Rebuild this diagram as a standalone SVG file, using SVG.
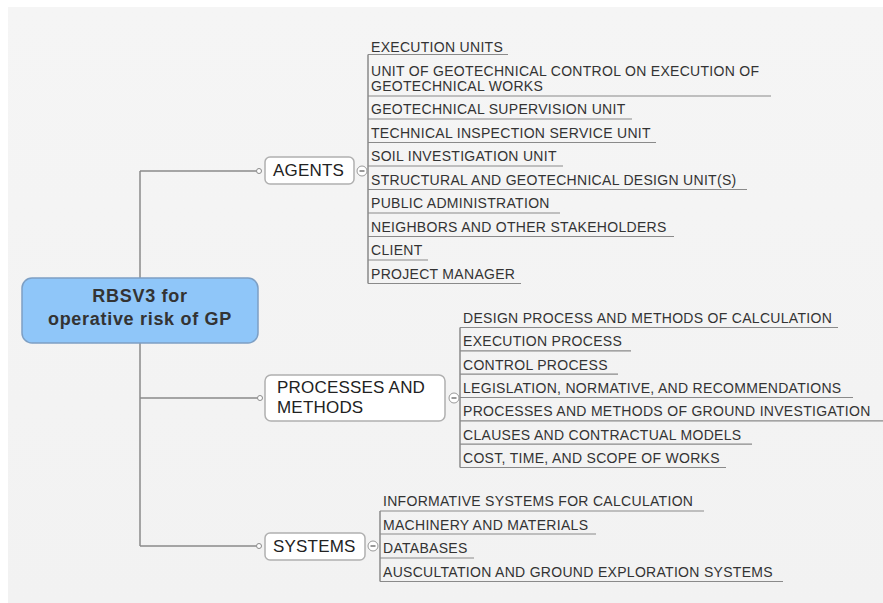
<svg xmlns="http://www.w3.org/2000/svg" width="883" height="603" viewBox="0 0 883 603">
<defs>
<linearGradient id="bg" x1="0" y1="0" x2="0" y2="1">
<stop offset="0" stop-color="#f5f5f5"/>
<stop offset="1" stop-color="#f2f2f2"/>
</linearGradient>
<style>
.lbl{font-family:"Liberation Sans",Arial,sans-serif;font-size:14px;letter-spacing:0.3px;fill:#333}
.node{font-family:"Liberation Sans",Arial,sans-serif;font-size:17px;letter-spacing:0.2px;fill:#222}
.root{font-family:"Liberation Sans",Arial,sans-serif;font-size:18px;font-weight:bold;letter-spacing:0.7px;fill:#333}
.ln{stroke:#8a8a8a;stroke-width:1.5;fill:none}
.ul{stroke:#8a8a8a;stroke-width:1.2;fill:none}
.box{fill:#fff;stroke:#b0b0b0;stroke-width:1.5}
.dot{fill:#fff;stroke:#8a8a8a;stroke-width:1}
.col{fill:#fff;stroke:#999;stroke-width:1}
.minus{stroke:#555;stroke-width:1.2}
</style>
</defs>
<rect x="8" y="7" width="875" height="596" fill="url(#bg)"/>

<g id="connectors">
<path class="ln" d="M140,171 V546 M140,171 H256.5 M140,398 H257.5 M140,546 H256.5"/>
<circle class="dot" cx="259" cy="171" r="2.5"/>
<circle class="dot" cx="260" cy="398" r="2.5"/>
<circle class="dot" cx="259" cy="546" r="2.5"/>
<path class="ln" d="M368,54.5 V283.5"/>
<path class="ln" d="M460,327.5 V467.5"/>
<path class="ln" d="M380,511 V581.5"/>
</g>

<g id="root">
<rect x="22" y="278" width="236" height="65" rx="10" fill="#8fc6f9" stroke="#7d9fc4" stroke-width="1.5"/>
<text class="root" x="140" y="302" text-anchor="middle">RBSV3 for</text>
<text class="root" x="140" y="325" text-anchor="middle">operative risk of GP</text>
</g>

<g id="agents">
<rect class="box" x="265" y="157" width="89" height="27" rx="5"/>
<text class="node" x="273" y="175.5">AGENTS</text>
<circle class="col" cx="362" cy="171" r="5"/>
<path class="minus" d="M359.5,171 H364.5"/>
</g>

<g id="agents-children">
<g id="a1"><text class="lbl" x="371" y="52">EXECUTION UNITS</text><path class="ul" d="M368,54.5 H508"/></g>
<g id="a2"><text class="lbl" x="371" y="76">UNIT OF GEOTECHNICAL CONTROL ON EXECUTION OF</text><text class="lbl" x="371" y="91">GEOTECHNICAL WORKS</text><path class="ul" d="M368,96 H771"/></g>
<g id="a3"><text class="lbl" x="371" y="114">GEOTECHNICAL SUPERVISION UNIT</text><path class="ul" d="M368,119 H632"/></g>
<g id="a4"><text class="lbl" x="371" y="137.5">TECHNICAL INSPECTION SERVICE UNIT</text><path class="ul" d="M368,142.5 H656"/></g>
<g id="a5"><text class="lbl" x="371" y="161">SOIL INVESTIGATION UNIT</text><path class="ul" d="M368,166 H563"/></g>
<g id="a6"><text class="lbl" x="371" y="184.5">STRUCTURAL AND GEOTECHNICAL DESIGN UNIT(S)</text><path class="ul" d="M368,189.5 H747"/></g>
<g id="a7"><text class="lbl" x="371" y="208">PUBLIC ADMINISTRATION</text><path class="ul" d="M368,213 H560"/></g>
<g id="a8"><text class="lbl" x="371" y="231.5">NEIGHBORS AND OTHER STAKEHOLDERS</text><path class="ul" d="M368,236.5 H674"/></g>
<g id="a9"><text class="lbl" x="371" y="255">CLIENT</text><path class="ul" d="M368,260 H428"/></g>
<g id="a10"><text class="lbl" x="371" y="278.5">PROJECT MANAGER</text><path class="ul" d="M368,283.5 H521"/></g>
</g>

<g id="processes">
<rect class="box" x="265" y="375" width="180" height="46" rx="6"/>
<text class="node" x="277" y="393">PROCESSES AND</text>
<text class="node" x="277" y="413">METHODS</text>
<circle class="col" cx="454" cy="398" r="5"/>
<path class="minus" d="M451.5,398 H456.5"/>
</g>

<g id="processes-children">
<g id="p1"><text class="lbl" x="463" y="323">DESIGN PROCESS AND METHODS OF CALCULATION</text><path class="ul" d="M460,327.5 H838"/></g>
<g id="p2"><text class="lbl" x="463" y="346.3">EXECUTION PROCESS</text><path class="ul" d="M460,350.8 H631"/></g>
<g id="p3"><text class="lbl" x="463" y="369.7">CONTROL PROCESS</text><path class="ul" d="M460,374.2 H618"/></g>
<g id="p4"><text class="lbl" x="463" y="393">LEGISLATION, NORMATIVE, AND RECOMMENDATIONS</text><path class="ul" d="M460,397.5 H853"/></g>
<g id="p5"><text class="lbl" x="463" y="416.3">PROCESSES AND METHODS OF GROUND INVESTIGATION</text><path class="ul" d="M460,420.8 H883"/></g>
<g id="p6"><text class="lbl" x="463" y="439.7">CLAUSES AND CONTRACTUAL MODELS</text><path class="ul" d="M460,444.2 H752"/></g>
<g id="p7"><text class="lbl" x="463" y="463">COST, TIME, AND SCOPE OF WORKS</text><path class="ul" d="M460,467.5 H726"/></g>
</g>

<g id="systems">
<rect class="box" x="265" y="533" width="100" height="27" rx="5"/>
<text class="node" x="273" y="552">SYSTEMS</text>
<circle class="col" cx="373" cy="546" r="5"/>
<path class="minus" d="M370.5,546 H375.5"/>
</g>

<g id="systems-children">
<g id="s1"><text class="lbl" x="383" y="506">INFORMATIVE SYSTEMS FOR CALCULATION</text><path class="ul" d="M380,511 H704"/></g>
<g id="s2"><text class="lbl" x="383" y="529.5">MACHINERY AND MATERIALS</text><path class="ul" d="M380,534 H596"/></g>
<g id="s3"><text class="lbl" x="383" y="553">DATABASES</text><path class="ul" d="M380,558 H474"/></g>
<g id="s4"><text class="lbl" x="383" y="576.5">AUSCULTATION AND GROUND EXPLORATION SYSTEMS</text><path class="ul" d="M380,581.5 H783"/></g>
</g>
</svg>
